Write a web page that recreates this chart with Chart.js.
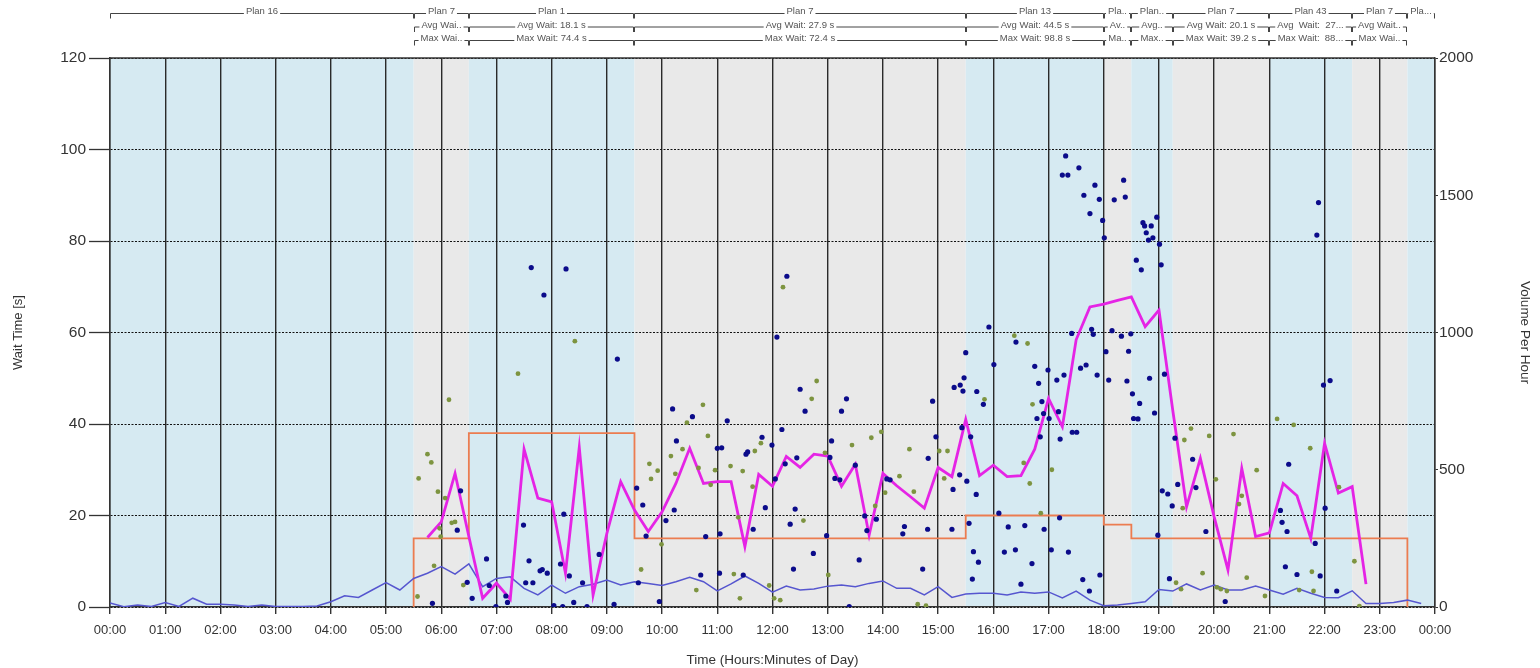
<!DOCTYPE html>
<html>
<head>
<meta charset="utf-8">
<script src="https://cdn.jsdelivr.net/npm/chart.js@4.4.1/dist/chart.umd.min.js"></script>
<style>
  html, body { margin: 0; padding: 0; background: #fff; }
  canvas { display: block; }
</style>
</head>
<body>
<canvas id="waitChart" width="1540" height="668"></canvas>
<script>
// --- Timing plans (hours of day) ---
const planStart = [0, 5.5, 6.5, 9.5, 15.5, 18, 18.5, 19.25, 21, 22.5, 23.5];
const planEnd   = [5.5, 6.5, 9.5, 15.5, 18, 18.5, 19.25, 21, 22.5, 23.5, 24];
const planName  = ["Plan 16", "Plan 7", "Plan 1", "Plan 7", "Plan 13", "Pla..", "Plan..", "Plan 7", "Plan 43", "Plan 7", "Pla..."];
const planAvg   = ["", "Avg Wai..", "Avg Wait: 18.1 s", "Avg Wait: 27.9 s", "Avg Wait: 44.5 s", "Av..", "Avg..", "Avg Wait: 20.1 s", "Avg  Wait:  27...", "Avg Wait..", ""];
const planMax   = ["", "Max Wai..", "Max Wait: 74.4 s", "Max Wait: 72.4 s", "Max Wait: 98.8 s", "Ma..", "Max..", "Max Wait: 39.2 s", "Max Wait:  88...", "Max Wai..", ""];
const planLevel = [null, 15, 38, 15, 20, 18, 15, 15, 15, 15, null];

// --- Volume per hour, one value per 15 min from 00:00 ---
const volume = [
  15, 1, 7, 2,       16, 2, 32, 10,     10, 7, 2, 7,       2, 2, 2, 4,
  19, 41, 35, 62,    89, 62, 104, 123,  147, 120, 157, 74, 104, 110, 68, 44,
  80, 50, 74, 83,    98, 80, 92, 86,    78, 92, 108, 92,   59, 84, 113, 86,
  54, 76, 62, 66,    76, 80, 74, 86,    95, 68, 68, 44,    74, 35, 47, 50,
  50, 44, 55, 50,    55, 33, 58, 25,    5, 7, 13, 19,      64, 58, 84, 62,
  80, 62, 62, 76,    62, 47, 68, 50,    35, 34, 59, 13,    13, 16, 25, 13
];

// --- Average wait per 15 min, starting 05:45 ---
const avgWaitFrom = 5.75;
const avgWait = [
  15.2,
  18.6, 29.2, 15.4, 1.9,   5.2, 1.7, 34.5, 23.8,   23.0, 7.4, 34.9, 2.6,   16.1, 27.4, 21.2, 16.5,
  20.8, 27.0, 34.7, 27.0,  27.4, 27.4, 13.2, 29.0, 26.4, 32.9, 30.5, 33.4, 33.0, 26.4, 31.2, 15.7,
  29.2, 26.5, 24.1, 21.6,  30.5, 28.5, 41.0, 28.7, 31.0, 28.5, 28.7, 34.5, 45.6, 39.4, 58.4, 65.6,
  66.2, 67.0, 67.8, 61.3,  64.9, 43.0, 21.9, 32.5, 19.7, 8.1, 30.3, 15.4,  16.2, 27.0, 24.3, 15.0,
  35.8, 24.9, 26.3, 5.0
];

// --- Individual vehicle waits (hour, seconds) ---
const blueT = [5.84, 6.29, 6.35, 6.47, 6.56, 6.82, 6.87, 6.99, 7.17, 7.20, 7.49, 7.53, 7.59, 7.66, 7.79, 7.83, 7.92,
  8.04, 8.16, 8.20, 8.22, 8.32, 8.40, 8.56, 8.64, 8.86, 9.13, 9.54, 9.57, 9.65, 9.71, 9.95, 10.07, 10.19, 10.22, 10.26,
  7.63, 7.86, 8.26, 9.19,
  10.55, 10.70, 10.79, 11.00, 11.05, 11.04, 11.08, 11.18, 11.47, 11.52, 11.55, 11.65, 11.81, 11.87, 11.99, 12.05,
  12.17, 12.23, 12.32, 12.38, 12.41, 12.44, 12.50, 12.59, 12.74, 12.98, 13.04, 13.07, 13.13, 13.22, 13.25, 13.34,
  13.39, 13.50, 13.57, 13.67, 13.71, 13.88, 14.07, 14.13, 14.36, 14.39, 14.72, 14.81, 14.82, 14.90, 14.96, 15.25,
  15.27, 15.29, 15.39, 15.40, 15.43, 15.45, 15.52, 15.56, 15.62, 15.64, 15.69, 15.70, 15.73, 12.08, 12.26,
  15.47, 15.50, 15.59, 15.82, 15.92, 16.01, 16.41, 16.75, 16.79, 16.82, 16.85, 16.88, 16.91, 16.99, 17.01, 17.15,
  17.18, 17.21, 17.25, 17.28, 17.31, 17.35, 17.42, 17.43, 17.51, 17.55, 17.58, 17.64, 17.68, 17.75, 17.78, 17.81,
  17.84, 17.88, 17.92, 17.98, 18.01, 18.04, 18.09, 18.15, 18.19, 18.32, 18.36, 18.39, 18.42, 18.45, 18.49, 18.52,
  18.54, 18.59, 18.62, 18.65, 18.68, 18.71, 18.74, 18.77, 18.81, 18.83, 18.86, 18.89, 18.92, 18.96, 19.01, 19.04,
  19.10, 19.29,
  17.93, 18.98, 19.06, 19.16, 19.19, 19.24, 19.34, 19.61, 19.67, 19.85, 20.20, 21.20, 21.23, 21.29, 21.32, 21.35,
  21.50, 21.83, 21.86, 21.89, 21.92, 21.98, 22.01, 22.10, 22.22,
  16.10, 16.20, 16.27, 16.40, 16.50, 16.57, 16.70, 16.92, 17.05, 17.20, 17.36, 17.62, 17.74];
const blueW = [0.8, 16.8, 25.4, 5.4, 1.9, 10.5, 4.7, 0.1, 2.4, 1.0, 17.9, 5.3, 10.1, 5.3, 7.9, 8.2, 7.4,
  0.3, 9.4, 0.1, 20.3, 6.8, 1.0, 5.3, 0.1, 11.5, 0.6, 26.0, 5.3, 22.3, 15.5, 1.2, 18.9, 43.3, 21.2, 36.3,
  74.2, 68.2, 73.9, 54.2,
  41.6, 7.0, 15.4, 34.7, 16.0, 7.4, 34.8, 40.7, 7.0, 33.4, 33.9, 17.0, 37.1, 21.7, 35.4, 28.0,
  38.8, 31.3, 18.1, 8.3, 21.4, 32.6, 47.6, 42.8, 11.7, 15.6, 32.7, 36.3, 28.1, 27.8, 42.8, 45.5,
  0.1, 31.0, 10.3, 19.9, 16.7, 19.2, 28.0, 27.8, 16.0, 17.6, 8.3, 17.0, 32.5, 45.0, 37.2, 17.0,
  25.7, 48.0, 28.9, 48.5, 39.2, 47.2, 27.5, 18.3, 6.1, 12.1, 24.6, 47.1, 9.8, 59.0, 72.3,
  50.1, 55.6, 37.2, 44.3, 61.2, 53.0, 57.9, 52.6, 41.2, 48.9, 37.2, 44.9, 42.3, 51.8, 41.2, 49.6,
  42.7, 36.7, 94.4, 50.7, 98.6, 94.4, 59.8, 38.2, 38.2, 96.0, 52.2, 90.0, 52.9, 86.0, 60.7, 59.6,
  92.2, 50.7, 89.1, 84.5, 80.7, 55.8, 49.6, 60.4, 89.0, 59.2, 93.3, 89.6, 49.4, 55.9, 59.7, 46.6,
  41.2, 75.8, 41.1, 44.5, 73.7, 84.0, 83.3, 81.8, 80.2, 50.0, 83.3, 80.7, 42.4, 85.2, 79.3, 74.8,
  50.9, 36.9,
  7.0, 15.7, 25.4, 24.7, 6.2, 22.1, 26.8, 32.3, 26.1, 16.5, 1.2, 21.1, 18.5, 8.8, 16.5, 31.2,
  7.1, 13.9, 81.3, 88.4, 6.8, 48.5, 21.6, 49.5, 3.5,
  20.5, 12.0, 17.5, 12.5, 5.0, 17.8, 9.5, 17.0, 12.5, 19.5, 12.0, 6.0, 3.5];

const greenT = [5.57, 5.59, 5.75, 5.82, 5.87, 5.94, 5.97, 5.99, 6.07, 6.14, 6.19, 6.25, 6.40, 7.39, 8.42,
  9.62, 9.77, 9.80, 9.92, 9.99, 10.16, 10.24, 10.37, 10.45, 10.62, 10.66, 10.74, 10.83, 10.88, 10.96,
  11.24, 11.30, 11.38, 11.41, 11.46, 11.64, 11.68, 11.79, 11.94, 12.03, 12.14, 12.19, 12.56, 12.71, 12.80,
  12.95, 13.01, 13.44, 13.79, 13.86, 13.97, 14.04, 14.30, 14.48, 14.56, 14.63, 14.78, 15.02, 15.11, 15.17,
  15.84, 16.38, 16.62, 16.71,
  19.31, 19.40, 19.43, 19.46, 19.58, 19.79, 19.91, 20.03, 20.05, 20.12, 20.23, 20.35, 20.45, 20.50, 20.59,
  20.77, 20.92, 21.14, 21.44, 21.54, 21.74, 21.77, 21.80, 22.26, 22.54, 22.63,
  16.55, 16.66, 16.86, 17.06];
const greenW = [2.3, 28.1, 33.4, 31.6, 9.0, 25.2, 17.2, 15.4, 23.8, 45.3, 18.4, 18.6, 4.8, 51.0, 58.1,
  8.2, 31.3, 28.0, 29.8, 13.7, 33.0, 29.1, 34.5, 40.3, 3.7, 30.4, 44.2, 37.4, 26.7, 29.9,
  30.8, 7.2, 19.6, 1.9, 29.7, 26.3, 34.1, 35.8, 4.7, 1.9, 1.5, 69.9, 18.9, 45.5, 49.4,
  33.7, 7.0, 35.4, 37.0, 22.1, 38.3, 25.0, 28.6, 34.5, 25.2, 0.6, 0.3, 34.1, 28.1, 34.1,
  45.4, 59.3, 57.6, 44.3,
  5.3, 3.9, 21.6, 36.5, 39.0, 7.4, 37.4, 27.9, 4.3, 3.9, 3.5, 37.8, 22.5, 24.3, 6.4,
  29.9, 2.4, 41.1, 39.8, 3.7, 34.7, 7.7, 3.5, 26.2, 10.0, 0.2,
  31.5, 27.0, 20.5, 30.0];

// --- Colours ---
const BAND_BLUE = "#d6eaf2";
const BAND_GRAY = "#e9e9e9";
const INK = "#333";
const FONT = '"Liberation Sans", Arial, sans-serif';

// --- Build the plotted point lists ---
const volumePts = volume.map((v, i) => ({ x: i / 4, y: v }));
const avgWaitPts = avgWait.map((v, i) => ({ x: avgWaitFrom + i / 4, y: v }));
const bluePts = blueT.map((t, i) => ({ x: t, y: blueW[i] }));
const greenPts = greenT.map((t, i) => ({ x: t, y: greenW[i] }));

// step line: each plan's level, closed down to zero at both ends
const levelPts = [];
let levelEnd = null;
planLevel.forEach((lv, i) => {
  if (lv === null) return;
  if (!levelPts.length) levelPts.push({ x: planStart[i], y: 0 });
  levelPts.push({ x: planStart[i], y: lv });
  levelEnd = planEnd[i];
});
levelPts.push({ x: levelEnd, y: 0 });

// --- Plugins: plan bands behind the grid, plan header on top ---
const planBands = {
  id: "planBands",
  beforeDraw(chart) {
    const { ctx, chartArea: a, scales: { x } } = chart;
    ctx.save();
    planStart.forEach((s, i) => {
      const x0 = x.getPixelForValue(s);
      const x1 = x.getPixelForValue(planEnd[i]);
      ctx.fillStyle = i % 2 ? BAND_GRAY : BAND_BLUE;
      ctx.fillRect(x0, a.top, x1 - x0, a.bottom - a.top);
    });
    ctx.restore();
  }
};

const planHeader = {
  id: "planHeader",
  afterDraw(chart) {
    const { ctx, chartArea: a, scales: { x } } = chart;
    const rows = [planName, planAvg, planMax];
    const rowY = [13, 26.5, 40];
    ctx.save();
    ctx.font = "9.5px " + FONT;
    ctx.textAlign = "center";
    ctx.textBaseline = "middle";
    ctx.fillStyle = "#555";
    ctx.strokeStyle = "#444";
    ctx.lineWidth = 1;
    rows.forEach((row, r) => {
      const y = rowY[r] + 0.5;
      row.forEach((txt, i) => {
        if (!txt) return;
        const x0 = Math.round(x.getPixelForValue(planStart[i])) + 0.5;
        const x1 = Math.round(x.getPixelForValue(planEnd[i])) - 0.5;
        const mid = (x0 + x1) / 2;
        const half = ctx.measureText(txt).width / 2 + 2;
        ctx.beginPath();
        ctx.moveTo(x0, y + 5);
        ctx.lineTo(x0, y);
        if (mid - half > x0) ctx.lineTo(mid - half, y);
        ctx.moveTo(x1, y + 5);
        ctx.lineTo(x1, y);
        if (mid + half < x1) ctx.lineTo(mid + half, y);
        ctx.stroke();
        ctx.fillText(txt, mid, y - 2);
      });
    });
    // top frame of the plot
    ctx.strokeStyle = INK;
    ctx.lineWidth = 1.5;
    ctx.beginPath();
    ctx.moveTo(a.left, a.top);
    ctx.lineTo(a.right, a.top);
    ctx.stroke();
    ctx.restore();
  }
};

// --- Chart ---
const ctx = document.getElementById("waitChart").getContext("2d");

new Chart(ctx, {
  data: {
    datasets: [
      {
        type: "scatter",
        label: "Wait (blue)",
        data: bluePts,
        pointRadius: 2.6,
        pointBackgroundColor: "#0b0b8a",
        pointBorderWidth: 0,
        yAxisID: "y"
      },
      {
        type: "scatter",
        label: "Wait (green)",
        data: greenPts,
        pointRadius: 2.4,
        pointBackgroundColor: "#7d9440",
        pointBorderWidth: 0,
        yAxisID: "y"
      },
      {
        type: "line",
        label: "Average Wait",
        data: avgWaitPts,
        borderColor: "#e524e5",
        borderWidth: 2.8,
        pointRadius: 0,
        tension: 0,
        yAxisID: "y"
      },
      {
        type: "line",
        label: "Volume",
        data: volumePts,
        borderColor: "#5656cf",
        borderWidth: 1.5,
        pointRadius: 0,
        tension: 0,
        yAxisID: "y2"
      },
      {
        type: "line",
        label: "Plan level",
        data: levelPts,
        borderColor: "#ec7c50",
        borderWidth: 1.8,
        pointRadius: 0,
        stepped: "before",
        yAxisID: "y"
      }
    ]
  },
  options: {
    responsive: false,
    animation: false,
    layout: { padding: { top: 58, left: 0, right: 0, bottom: 0 } },
    plugins: {
      legend: { display: false },
      tooltip: { enabled: false }
    },
    scales: {
      x: {
        type: "linear",
        min: 0,
        max: 24,
        afterFit: s => { s.height = 61; },
        ticks: {
          stepSize: 1,
          autoSkip: false,
          maxRotation: 0,
          padding: 9,
          color: INK,
          font: { family: FONT, size: 13 },
          callback: v => String(v % 24).padStart(2, "0") + ":00"
        },
        grid: { color: "#2a2a2a", lineWidth: 1.4, tickLength: 7, tickColor: INK },
        border: { color: INK, width: 1.5 },
        title: {
          display: true,
          text: "Time (Hours:Minutes of Day)",
          color: INK,
          font: { family: FONT, size: 13.5 },
          padding: { top: 0, bottom: 0 }
        }
      },
      y: {
        position: "left",
        min: 0,
        max: 120,
        afterFit: s => { s.width = 110; },
        ticks: {
          stepSize: 20,
          padding: 3,
          color: INK,
          font: { family: FONT, size: 15.5 }
        },
        grid: {
          color: "#111",
          lineWidth: 1,
          tickLength: 21,
          tickColor: INK,
          tickWidth: 1.3,
          tickBorderDash: []
        },
        border: { color: INK, width: 1.5, dash: [2, 1.5] },
        title: {
          display: true,
          text: "Wait Time [s]",
          color: INK,
          font: { family: FONT, size: 13 },
          padding: { top: 11, bottom: 0 }
        }
      },
      y2: {
        position: "right",
        min: 0,
        max: 2000,
        afterFit: s => { s.width = 105; },
        ticks: {
          stepSize: 500,
          padding: 1,
          color: INK,
          font: { family: FONT, size: 15.5 },
          callback: v => String(v)
        },
        grid: { drawOnChartArea: false, tickLength: 3, tickColor: INK },
        border: { color: INK, width: 1.5 },
        title: {
          display: true,
          text: "Volume Per Hour",
          color: INK,
          font: { family: FONT, size: 13.5 },
          padding: { top: 7, bottom: 0 }
        }
      }
    }
  },
  plugins: [planBands, planHeader]
});
</script>
</body>
</html>
